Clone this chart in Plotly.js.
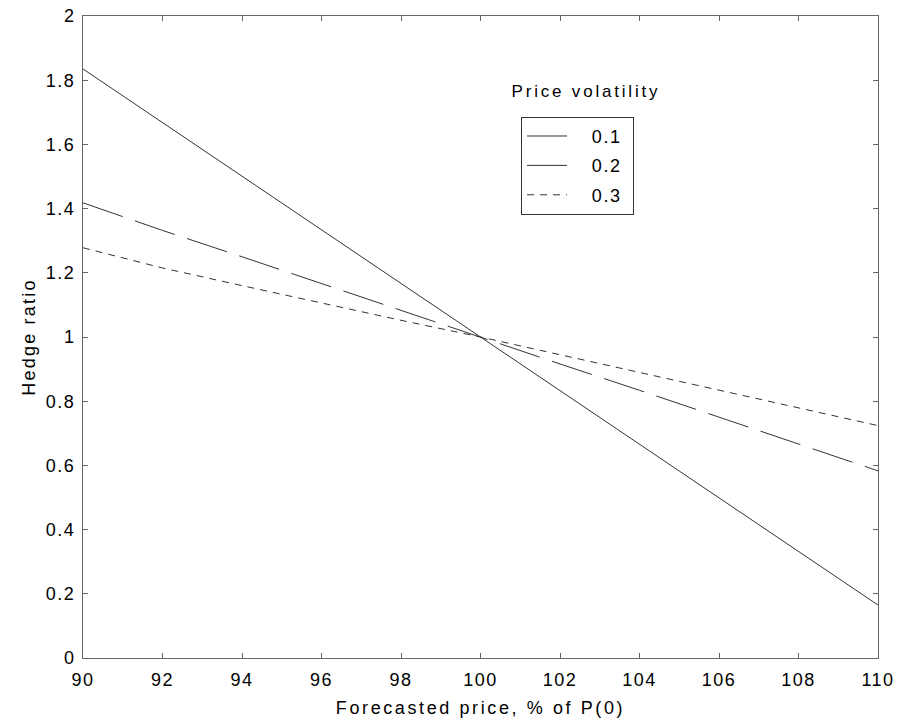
<!DOCTYPE html>
<html>
<head>
<meta charset="utf-8">
<script src="https://cdn.plot.ly/plotly-3.0.1.min.js"></script>
<style>
html,body{margin:0;padding:0;background:#fff;}
#chart{width:901px;height:726px;}
#chart .xtitle{letter-spacing:2.6px;}
#chart .ytitle{letter-spacing:2.2px;}
#chart .annotation-text{letter-spacing:2.8px;}
#chart .xtick text, #chart .ytick text{letter-spacing:1.5px;}
#chart .legendtext{letter-spacing:1.6px;}
</style>
</head>
<body>
<div id="chart"></div>
<script>
const forecastPrice = [90, 92, 94, 96, 98, 100, 102, 104, 106, 108, 110];
const vol01 = [1.835, 1.668, 1.5, 1.333, 1.167, 1.0, 0.833, 0.667, 0.5, 0.333, 0.165];
const vol02 = [1.418, 1.332, 1.25, 1.166, 1.084, 1.0, 0.916, 0.834, 0.75, 0.666, 0.583];
const vol03 = [1.278, 1.215, 1.16, 1.105, 1.052, 1.0, 0.945, 0.89, 0.835, 0.78, 0.724];
const seriesNames = ["0.1", "0.2", "0.3"];
const xTicks = [90, 92, 94, 96, 98, 100, 102, 104, 106, 108, 110];
const yTicks = [0, 0.2, 0.4, 0.6, 0.8, 1, 1.2, 1.4, 1.6, 1.8, 2];
const yTickText = ["0", "0.2", "0.4", "0.6", "0.8", "1", "1.2", "1.4", "1.6", "1.8", "2"];

const FONT = "Liberation Sans, Arial, Helvetica, sans-serif";
const lineColor = "#333";
const pad = "\u00a0\u00a0\u00a0";

const traces = [
  {x: forecastPrice, y: vol01, name: pad + seriesNames[0] + pad, legendgroup: "a", mode: "lines",
   line: {color: lineColor, width: 1, dash: "solid"}},
  {x: forecastPrice, y: vol02, name: pad + seriesNames[1] + pad, legendgroup: "b", mode: "lines",
   line: {color: lineColor, width: 1, dash: "42px,13px"}},
  {x: forecastPrice, y: vol03, name: pad + seriesNames[2] + pad, legendgroup: "c", mode: "lines",
   line: {color: lineColor, width: 1, dash: "7px,6px"}}
];

const axisCommon = {
  showline: true, linecolor: "#666", linewidth: 1, mirror: "ticks",
  ticks: "inside", ticklen: 5, tickcolor: "#666", tickwidth: 1,
  showgrid: false, zeroline: false,
  tickfont: {family: FONT, size: 18, color: "#000"}
};

const layout = {
  width: 901, height: 726,
  margin: {l: 83, r: 23, t: 16, b: 68},
  paper_bgcolor: "#fff", plot_bgcolor: "#fff",
  font: {family: FONT, color: "#000"},
  showlegend: true,
  xaxis: Object.assign({}, axisCommon, {
    range: [90, 110], tickmode: "array", tickvals: xTicks,
    ticklabelstandoff: 5,
    title: {text: "Forecasted price, % of P(0)", font: {family: FONT, size: 18, color: "#000"}, standoff: 12}
  }),
  yaxis: Object.assign({}, axisCommon, {
    range: [0, 2], tickmode: "array", tickvals: yTicks, ticktext: yTickText,
    ticklabelstandoff: 3,
    title: {text: "Hedge ratio", font: {family: FONT, size: 18, color: "#000"}, standoff: 10}
  }),
  legend: {
    x: 0.551, y: 0.843, xanchor: "left", yanchor: "top",
    bordercolor: "#333", borderwidth: 1, bgcolor: "#fff",
    font: {family: FONT, size: 18, color: "#000"},
    tracegroupgap: 3, itemwidth: 40
  },
  annotations: [{
    text: "Price volatility", xref: "paper", yref: "paper",
    x: 0.633, y: 0.883, xanchor: "center", yanchor: "middle", showarrow: false,
    font: {family: FONT, size: 17, color: "#000"}
  }]
};

Plotly.newPlot("chart", traces, layout, {displayModeBar: false, staticPlot: true});
</script>
</body>
</html>
